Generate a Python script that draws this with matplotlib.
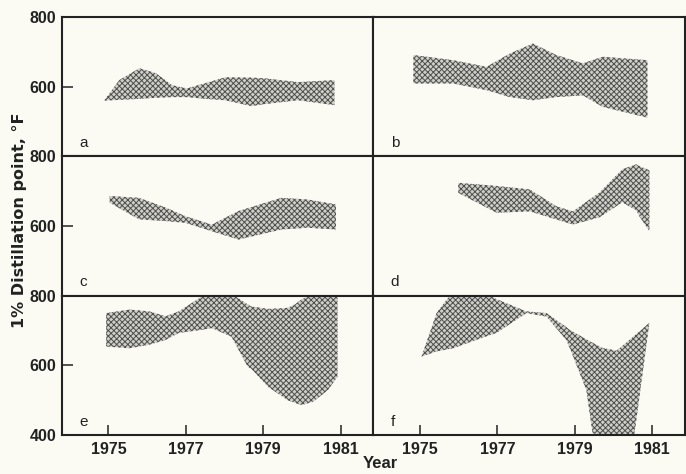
import matplotlib.pyplot as plt
import numpy as np

# band edges (year, upper, lower) for panels a-f
a_year = [1974.9, 1975.28, 1975.8, 1976.22, 1976.65, 1977.03, 1977.5, 1978.02, 1978.7, 1979.04, 1979.9, 1980.84]
a_upper = [562, 619, 653, 639, 604, 595, 610, 627, 626, 624, 613, 619]
a_lower = [560, 562, 565, 568, 570, 570, 565, 561, 544, 550, 561, 547]

b_year = [1974.83, 1975.86, 1976.72, 1977.32, 1977.92, 1978.52, 1979.21, 1979.72, 1980.88]
b_upper = [691, 676, 657, 695, 724, 691, 667, 686, 676]
b_lower = [609, 609, 590, 570, 561, 570, 575, 542, 511]

c_year = [1975.03, 1975.79, 1976.5, 1976.99, 1977.67, 1978.36, 1979.47, 1980.15, 1980.88]
c_upper = [686, 681, 652, 628, 604, 643, 681, 676, 662]
c_lower = [667, 619, 614, 609, 585, 561, 590, 595, 590]

d_year = [1975.99, 1976.98, 1977.84, 1978.52, 1978.95, 1979.64, 1980.23, 1980.59, 1980.67, 1980.93]
d_upper = [724, 715, 705, 657, 642, 696, 763, 777, 772, 760]
d_lower = [695, 638, 642, 619, 604, 625, 668, 645, 628, 585]

e_year = [1974.94, 1975.54, 1976.05, 1976.48, 1976.82, 1977.42, 1977.67, 1978.18, 1978.6, 1978.69,
          1979.13, 1979.63, 1979.82, 1980.0, 1980.3, 1980.67, 1980.92]
e_upper = [750, 760, 755, 741, 755, 798, 805, 805, 775, 769, 762, 765, 775, 790, 805, 805, 805]
e_lower = [654, 649, 659, 673, 693, 702, 707, 682, 596, 590, 538, 500, 492, 486, 496, 529, 567]

f_year = [1975.04, 1975.43, 1975.82, 1975.86, 1976.63, 1976.98, 1977.75, 1978.27, 1978.78, 1978.87,
          1979.3, 1979.46, 1979.72, 1980.08, 1980.54, 1980.93]
f_upper = [625, 750, 808, 808, 811, 790, 755, 750, 710, 702, 675, 665, 650, 642, 685, 722]
f_lower = [625, 640, 648, 649, 680, 693, 750, 740, 673, 650, 529, 405, 400, 400, 400, 722]

panels = [("a", a_year, a_upper, a_lower), ("b", b_year, b_upper, b_lower),
          ("c", c_year, c_upper, c_lower), ("d", d_year, d_upper, d_lower),
          ("e", e_year, e_upper, e_lower), ("f", f_year, f_upper, f_lower)]

year_ticks = [1975, 1977, 1979, 1981]

plt.rcParams['font.family'] = ['Liberation Sans', 'DejaVu Sans']
plt.rcParams['hatch.linewidth'] = 0.7
bg = '#fbfbf3'
ink = '#222222'

fig, axes = plt.subplots(3, 2, figsize=(6.86, 4.74), dpi=100)
fig.patch.set_facecolor(bg)
fig.subplots_adjust(left=62/686, right=685/686, top=1-17/474, bottom=1-435/474,
                    wspace=0, hspace=0)

for ax, (tag, yr, up, lo) in zip(axes.flat, panels):
    ax.set_facecolor(bg)
    ax.fill_between(yr, lo, up, facecolor='#cfcfc8', edgecolor='#4e4e4e',
                    hatch='xxxxxx', linewidth=0)
    ax.set_xlim(1973.8, 1981.85)
    ax.set_ylim(400, 800)
    for s in ax.spines.values():
        s.set_color(ink)
        s.set_linewidth(1.5)
    ax.text(0.055, 0.045, tag, transform=ax.transAxes, fontsize=11,
            color=ink, ha='left', va='bottom')

for r in range(3):
    for c in range(2):
        ax = axes[r, c]
        if r == 2:
            ax.set_xticks(year_ticks)
            ax.set_xticklabels([str(y) for y in year_ticks], fontsize=11.5,
                               fontweight='bold', color=ink)
            ax.tick_params(axis='x', direction='in', length=7, width=1.1,
                           color=ink, pad=5)
        else:
            ax.set_xticks([])
        if c == 0:
            ticks = [400, 600, 800] if r == 2 else [600, 800]
            ax.set_yticks(ticks)
            ax.set_yticklabels([str(t) for t in ticks], fontsize=11.5,
                               fontweight='bold', color=ink)
            ax.tick_params(axis='y', direction='in', length=8, width=1.1,
                           color=ink, pad=4)
        else:
            ax.set_yticks([])

fig.text(20/686, 1-220/474, "1% Distillation point, \u00b0F", rotation=90,
         ha='center', va='center', fontsize=11.5, fontweight='bold', color=ink,
         family=['DejaVu Sans'])
fig.text(380/686, 1-463/474, "Year", ha='center', va='center', fontsize=12,
         fontweight='bold', color=ink)

fig.savefig("out.png", dpi=100, facecolor=bg)
